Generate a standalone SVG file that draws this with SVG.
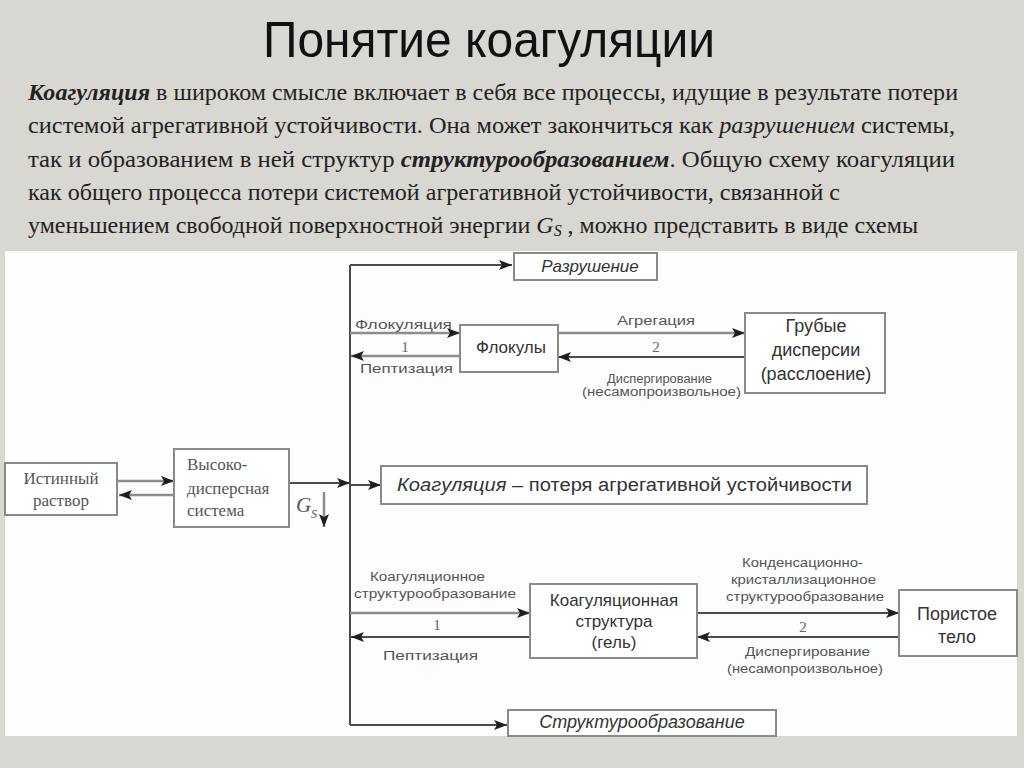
<svg xmlns="http://www.w3.org/2000/svg" width="1024" height="768" viewBox="0 0 1024 768">
<defs>
<marker id="ah" markerWidth="13" markerHeight="10" refX="13" refY="5" orient="auto" markerUnits="userSpaceOnUse">
<path d="M0,0 L13,5 L0,10 L3,5 Z" fill="#1e1e1e"/>
</marker>
</defs>
<style>
.bg{fill:#d8d7d2}
.panel{fill:#fdfdfd}
.box{fill:#ffffff;stroke:#8a8a8a;stroke-width:2}
.ln{stroke:#4a4a4a;stroke-width:2;fill:none}
.lg{stroke:#8c8c8c;stroke-width:2.5;fill:none}
.title{font-family:"Liberation Sans",Arial,sans-serif;font-size:50px;fill:#111}
.body{font-family:"Liberation Serif","Times New Roman",serif;font-size:24px;fill:#222}
.ser{font-family:"Liberation Serif","Times New Roman",serif;font-size:17px;fill:#555}
.sans{font-family:"Liberation Sans",Arial,sans-serif;font-size:17px;fill:#333}
.big{font-family:"Liberation Sans",Arial,sans-serif;font-size:18px;fill:#333}
.sm{font-family:"Liberation Sans",Arial,sans-serif;font-size:12.5px;fill:#555}
.num{font-family:"Liberation Serif","Times New Roman",serif;font-size:15px;fill:#666}
.it{font-style:italic}
.b{font-weight:bold}
</style>
<rect class="bg" x="0" y="0" width="1024" height="768"/>
<text class="title" x="263" y="57" textLength="452" lengthAdjust="spacingAndGlyphs">Понятие коагуляции</text>
<g id="paragraph">
<text class="body" x="28" y="100" textLength="930" lengthAdjust="spacingAndGlyphs"><tspan class="b it">Коагуляция</tspan> в широком смысле включает в себя все процессы, идущие в результате потери</text>
<text class="body" x="28" y="133" textLength="927" lengthAdjust="spacingAndGlyphs">системой агрегативной устойчивости. Она может закончиться как <tspan class="it">разрушением</tspan> системы,</text>
<text class="body" x="28" y="167" textLength="927" lengthAdjust="spacingAndGlyphs">так и образованием в ней структур  <tspan class="b it">структурообразованием</tspan>. Общую схему коагуляции</text>
<text class="body" x="28" y="200" textLength="812" lengthAdjust="spacingAndGlyphs">как общего процесса потери системой агрегативной устойчивости, связанной с</text>
<text class="body" x="28" y="233" textLength="890" lengthAdjust="spacingAndGlyphs">уменьшением свободной поверхностной энергии <tspan class="it">G</tspan><tspan class="it" style="font-size:16px" dy="3">S</tspan><tspan dy="-3"> , можно представить в виде схемы</tspan></text>
</g>
<rect class="panel" x="5" y="251" width="1012" height="485"/>
<g id="connectors">
<path class="ln" d="M350,265 V725"/>
<path class="ln" d="M350,265 H512" marker-end="url(#ah)"/>
<path class="lg" d="M350,333 H460" marker-end="url(#ah)"/>
<path class="lg" d="M460,356 H351" marker-end="url(#ah)"/>
<path class="lg" d="M558,333 H745" marker-end="url(#ah)"/>
<path class="ln" d="M745,357 H558" marker-end="url(#ah)"/>
<path class="lg" d="M118,481 H174" marker-end="url(#ah)"/>
<path class="lg" d="M174,495 H119" marker-end="url(#ah)"/>
<path class="ln" d="M289,483 H350" marker-end="url(#ah)"/>
<path class="lg" d="M324,492 V527" marker-end="url(#ah)"/>
<path class="ln" d="M350,485 H381" marker-end="url(#ah)"/>
<path class="lg" d="M350,613 H530" marker-end="url(#ah)"/>
<path class="ln" d="M530,637 H351" marker-end="url(#ah)"/>
<path class="ln" d="M697,613 H899" marker-end="url(#ah)"/>
<path class="ln" d="M899,637 H697" marker-end="url(#ah)"/>
<path class="ln" d="M350,725 H507" marker-end="url(#ah)"/>
<text class="sm" x="355" y="329" textLength="97" lengthAdjust="spacingAndGlyphs">Флокуляция</text>
<text class="num" x="405" y="352" text-anchor="middle">1</text>
<text class="sm" x="360" y="373" textLength="93" lengthAdjust="spacingAndGlyphs">Пептизация</text>
<text class="sm" x="617" y="325" textLength="78" lengthAdjust="spacingAndGlyphs">Агрегация</text>
<text class="num" x="656" y="352" text-anchor="middle">2</text>
<text class="sm" x="607" y="383" textLength="105" lengthAdjust="spacingAndGlyphs">Диспергирование</text>
<text class="sm" x="582" y="396" textLength="159" lengthAdjust="spacingAndGlyphs">(несамопроизвольное)</text>
<text class="ser it" x="296" y="512" style="font-size:21px">G</text>
<text class="ser it" x="311" y="518" style="font-size:12px">S</text>
<text class="sm" x="370" y="581" textLength="115" lengthAdjust="spacingAndGlyphs">Коагуляционное</text>
<text class="sm" x="354" y="598" textLength="162" lengthAdjust="spacingAndGlyphs">структурообразование</text>
<text class="num" x="437" y="630" text-anchor="middle">1</text>
<text class="sm" x="383" y="660" textLength="95" lengthAdjust="spacingAndGlyphs">Пептизация</text>
<text class="sm" x="742" y="567" textLength="121" lengthAdjust="spacingAndGlyphs">Конденсационно-</text>
<text class="sm" x="731" y="584" textLength="145" lengthAdjust="spacingAndGlyphs">кристаллизационное</text>
<text class="sm" x="726" y="601" textLength="158" lengthAdjust="spacingAndGlyphs">структурообразование</text>
<text class="num" x="803" y="632" text-anchor="middle">2</text>
<text class="sm" x="745" y="656" textLength="125" lengthAdjust="spacingAndGlyphs">Диспергирование</text>
<text class="sm" x="727" y="673" textLength="156" lengthAdjust="spacingAndGlyphs">(несамопроизвольное)</text>
</g>
<g id="n-istinny">
<rect class="box" x="5" y="463" width="112" height="52"/>
<text class="ser" x="61" y="484" text-anchor="middle">Истинный</text>
<text class="ser" x="61" y="506" text-anchor="middle">раствор</text>
</g>
<g id="n-vysoko">
<rect class="box" x="174" y="449" width="115" height="78"/>
<text class="ser" x="187" y="470">Высоко-</text>
<text class="ser" x="187" y="494">дисперсная</text>
<text class="ser" x="187" y="516">система</text>
</g>
<g id="n-razrush">
<rect class="box" x="514" y="253" width="143" height="27"/>
<text class="sans it" x="590" y="272" text-anchor="middle">Разрушение</text>
</g>
<g id="n-flokuly">
<rect class="box" x="460" y="325" width="98" height="47"/>
<text class="sans" x="511" y="353" text-anchor="middle">Флокулы</text>
</g>
<g id="n-gruby">
<rect class="box" x="745" y="313" width="140" height="80"/>
<text class="big" x="816" y="332" text-anchor="middle">Грубые</text>
<text class="big" x="816" y="356" text-anchor="middle">дисперсии</text>
<text class="big" x="816" y="380" text-anchor="middle">(расслоение)</text>
</g>
<g id="n-koag">
<rect class="box" x="381" y="466" width="486" height="38"/>
<text class="big" x="397" y="491" textLength="455" lengthAdjust="spacingAndGlyphs"><tspan class="it">Коагуляция</tspan> – потеря агрегативной устойчивости</text>
</g>
<g id="n-gel">
<rect class="box" x="530" y="584" width="167" height="74"/>
<text class="sans" x="614" y="606" text-anchor="middle">Коагуляционная</text>
<text class="sans" x="614" y="627" text-anchor="middle">структура</text>
<text class="sans" x="614" y="648" text-anchor="middle">(гель)</text>
</g>
<g id="n-porist">
<rect class="box" x="899" y="590" width="118" height="66"/>
<text class="big" x="957" y="620" text-anchor="middle">Пористое</text>
<text class="big" x="957" y="643" text-anchor="middle">тело</text>
</g>
<g id="n-struct">
<rect class="box" x="508" y="710" width="268" height="26"/>
<text class="big it" x="642" y="728" text-anchor="middle">Структурообразование</text>
</g>
</svg>
